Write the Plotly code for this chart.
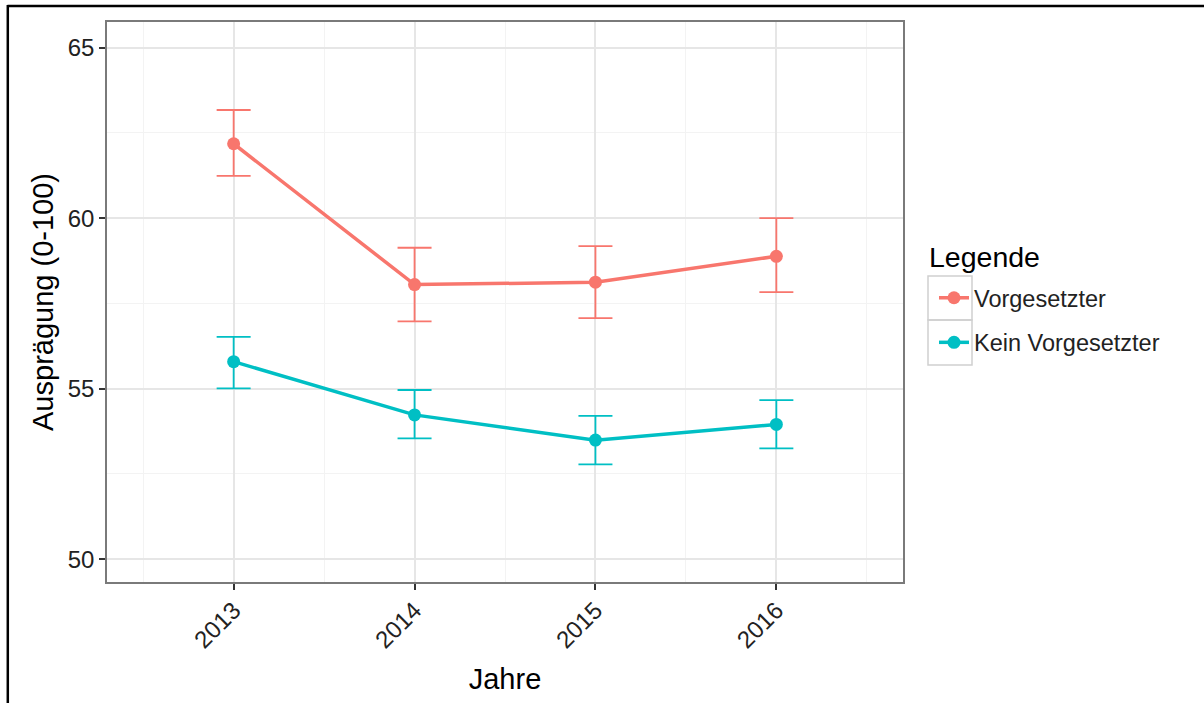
import plotly.graph_objects as go

years = [2013, 2014, 2015, 2016]
series_names = ["Vorgesetzter", "Kein Vorgesetzter"]
colors = ["#F8766D", "#00BFC4"]

vorg_mean = [62.18, 58.05, 58.12, 58.88]
vorg_upper = [63.17, 59.13, 59.18, 60.00]
vorg_lower = [61.24, 56.97, 57.07, 57.83]

kein_mean = [55.79, 54.23, 53.49, 53.95]
kein_upper = [56.52, 54.96, 54.20, 54.66]
kein_lower = [55.01, 53.54, 52.78, 53.25]

x_ticks = [2013, 2014, 2015, 2016]
x_tick_labels = ["2013", "2014", "2015", "2016"]
y_ticks = [50, 55, 60, 65]
y_minor = [52.5, 57.5, 62.5]
x_minor = [2012.5, 2013.5, 2014.5, 2015.5, 2016.5]

FONT = "Liberation Sans, Arial, sans-serif"

fig = go.Figure()
data = [(vorg_mean, vorg_upper, vorg_lower), (kein_mean, kein_upper, kein_lower)]
for i, (name, col, (m, up, lo)) in enumerate(zip(series_names, colors, data)):
    fig.add_trace(go.Scatter(
        x=years, y=m, name=name, mode="lines+markers",
        legendgroup=name,
        line=dict(color=col, width=3.5),
        marker=dict(color=col, size=13),
        error_y=dict(type="data", symmetric=False,
                     array=[u - v for u, v in zip(up, m)],
                     arrayminus=[v - l for v, l in zip(m, lo)],
                     color=col, thickness=1.8, width=17),
    ))

# plot area: x 107..903, y 22..582
W, H = 1204, 703
L, R, T, B = 107, 301, 22, 121
pw, ph = W - L - R, H - T - B

def px_x(px):
    return (px - L) / pw

def px_y(py):
    return (H - B - py) / ph

shapes = [
    # outer frame (top and left edges)
    dict(type="line", xref="paper", yref="paper", x0=px_x(7.5), x1=px_x(W + 2),
         y0=px_y(6), y1=px_y(6), line=dict(color="black", width=2.5)),
    dict(type="line", xref="paper", yref="paper", x0=px_x(7.8), x1=px_x(7.8),
         y0=px_y(5), y1=px_y(H + 2), line=dict(color="black", width=2.5)),
    # legend key boxes
    dict(type="rect", xref="paper", yref="paper", x0=px_x(928), x1=px_x(972),
         y0=px_y(320), y1=px_y(276), line=dict(color="#d0d0d0", width=1.5)),
    dict(type="rect", xref="paper", yref="paper", x0=px_x(928), x1=px_x(972),
         y0=px_y(365), y1=px_y(320), line=dict(color="#d0d0d0", width=1.5)),
]

annotations = [
    dict(text="Legende", xref="paper", yref="paper", x=px_x(927), y=px_y(257),
         xanchor="left", yanchor="middle", showarrow=False,
         font=dict(size=28.5, color="black")),
]

fig.update_layout(
    width=W, height=H,
    margin=dict(l=L, r=R, t=T, b=B),
    paper_bgcolor="white", plot_bgcolor="white",
    font=dict(family=FONT, color="#222222"),
    shapes=shapes,
    annotations=annotations,
    showlegend=True,
    legend=dict(
        x=px_x(934), y=px_y(276), xanchor="left", yanchor="top",
        font=dict(size=23.5, color="#222222"),
        tracegroupgap=11, bgcolor="rgba(0,0,0,0)",
    ),
    xaxis=dict(
        range=[2012.3, 2016.7], tickmode="array", tickvals=x_ticks, ticktext=x_tick_labels,
        tickangle=-45, tickfont=dict(size=24, color="#222222"),
        ticks="outside", ticklen=6, tickwidth=1.5, tickcolor="#333333",
        ticklabelstandoff=-3,
        showgrid=True, gridcolor="#e6e6e6", gridwidth=1.5,
        minor=dict(tickmode="array", tickvals=x_minor, showgrid=True,
                   gridcolor="#f3f3f3", gridwidth=1, ticks=""),
        showline=True, linecolor="#7a7a7a", linewidth=1.5, mirror=True,
        zeroline=False,
        title=dict(text="Jahre", font=dict(size=29, color="black"), standoff=16),
    ),
    yaxis=dict(
        range=[49.33, 65.75], tickmode="array", tickvals=y_ticks,
        tickfont=dict(size=24, color="#222222"),
        ticks="outside", ticklen=6, tickwidth=1.5, tickcolor="#333333",
        showgrid=True, gridcolor="#e6e6e6", gridwidth=1.5,
        minor=dict(tickmode="array", tickvals=y_minor, showgrid=True,
                   gridcolor="#f3f3f3", gridwidth=1, ticks=""),
        showline=True, linecolor="#7a7a7a", linewidth=1.5, mirror=True,
        zeroline=False,
        title=dict(text="Ausprägung (0-100)", font=dict(size=29, color="black"), standoff=6),
    ),
)

fig.write_html("out.html")
